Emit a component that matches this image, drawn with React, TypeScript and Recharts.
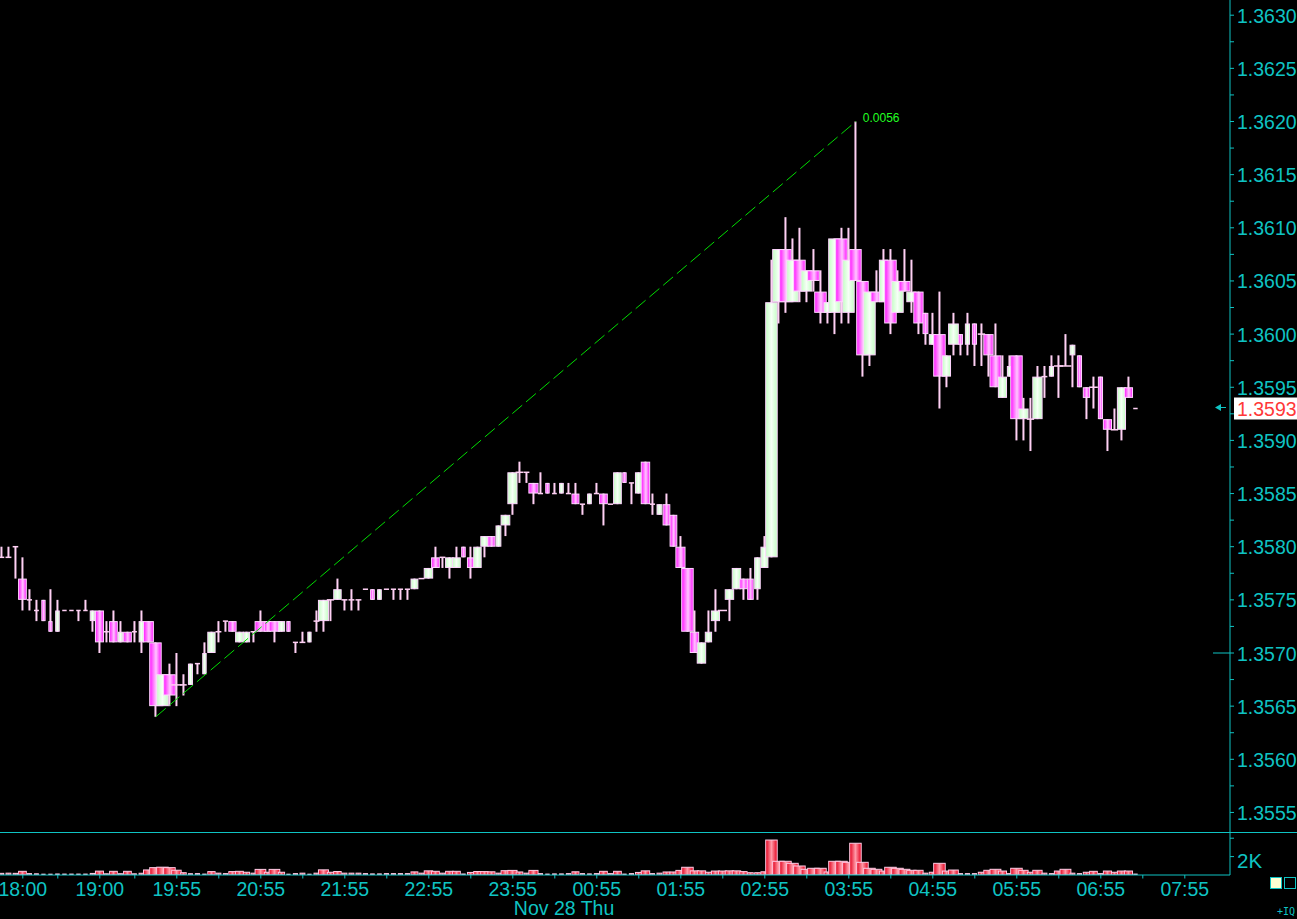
import React from 'react';
import { ComposedChart, Bar, XAxis, YAxis, ReferenceLine, ReferenceDot } from 'recharts';

// ---------- categories (5-minute bars) ----------
const TIMES = [
  '17:45','17:50','17:55','18:00','18:05','18:10','18:15','18:20','18:30','18:35','18:40','18:45','18:50','18:55',
  '19:00','19:05','19:10','19:15','19:20','19:25','19:30','19:35','19:40','19:45','19:50','19:55',
  '20:00','20:05','20:10','20:15','20:20','20:25','20:30','20:35','20:40','20:45','20:50','20:55',
  '21:00','21:05','21:10','21:15','21:20','21:25','21:30','21:35','21:40','21:45','21:50','21:55',
  '22:00','22:05','22:10','22:15','22:20','22:25','22:30','22:35','22:40','22:45','22:50','22:55',
  '23:00','23:05','23:10','23:15','23:20','23:25','23:30','23:35','23:40','23:45','23:50','23:55',
  '00:00','00:05','00:10','00:15','00:20','00:25','00:30','00:35','00:40','00:45','00:50','00:55',
  '01:00','01:05','01:10','01:15','01:20','01:25','01:30','01:35','01:40','01:45','01:50','01:55',
  '02:00','02:05','02:10','02:15','02:20','02:25','02:30','02:35','02:40','02:45','02:50','02:55',
  '03:00','03:05','03:10','03:15','03:20','03:25','03:30','03:35','03:40','03:45','03:50','03:55',
  '04:00','04:05','04:10','04:15','04:20','04:25','04:30','04:35','04:40','04:45','04:50','04:55',
  '05:00','05:05','05:10','05:15','05:20','05:25','05:30','05:35','05:40','05:45','05:50','05:55',
  '06:00','06:05','06:10','06:15','06:20','06:25','06:30','06:35','06:40','06:45','06:50','06:55',
  '07:00','07:05','07:10','07:15','07:20',
];

// ---------- series ----------
const OPEN = [
  1.3579,1.3579,1.3580,1.3577,1.3575,1.3574,1.3575,1.3573,1.3572,1.3574,
  1.3574,1.3574,1.3574,1.3573,1.3574,1.3572,1.3573,1.3571,1.3572,1.3572,
  1.3571,1.3573,1.3571,1.3565,1.3568,1.3567,1.3567,1.3567,1.3569,1.3568,
  1.3570,1.3572,1.3573,1.3573,1.3571,1.3571,1.3572,1.3573,1.3573,1.3573,
  1.3572,1.3573,1.3571,1.3571,1.3571,1.3573,1.3573,1.3575,1.3575,1.3575,
  1.3575,1.3575,1.3576,1.3576,1.3575,1.3576,1.3576,1.3576,1.3576,1.3576,
  1.3577,1.3577,1.3579,1.3579,1.3578,1.3578,1.3580,1.3579,1.3578,1.3580,
  1.3581,1.3580,1.3582,1.3584,1.3587,1.3587,1.3586,1.3585,1.3586,1.3585,
  1.3585,1.3585,1.3585,1.3584,1.3584,1.3585,1.3585,1.3584,1.3584,1.3587,
  1.3586,1.3585,1.3588,1.3584,1.3583,1.3584,1.3583,1.3580,1.3578,1.3572,
  1.3569,1.3571,1.3573,1.3574,1.3575,1.3576,1.3577,1.3577,1.3576,1.3578,
  1.3579,1.3603,1.3608,1.3603,1.3607,1.3604,1.3606,1.3604,1.3602,1.3602,
  1.3609,1.3602,1.3608,1.3605,1.3598,1.3604,1.3603,1.3607,1.3602,1.3605,
  1.3603,1.3604,1.3602,1.3599,1.3600,1.3596,1.3599,1.3600,1.3599,1.3601,
  1.3600,1.3600,1.3598,1.3594,1.3596,1.3598,1.3592,1.3592,1.3592,1.3596,
  1.3596,1.3597,1.3597,1.3598,1.3598,1.3595,1.3595,1.3596,1.3592,1.3591,
  1.3591,1.3595,1.3593,
];
const HIGH = [
  1.3580,1.3580,1.3580,1.3579,1.3576,1.3575,1.3575,1.3576,1.3575,1.3574,
  1.3574,1.3574,1.3575,1.3574,1.3574,1.3573,1.3574,1.3573,1.3572,1.3573,
  1.3574,1.3573,1.3571,1.3568,1.3569,1.3570,1.3568,1.3569,1.3569,1.3571,
  1.3572,1.3573,1.3573,1.3573,1.3572,1.3572,1.3572,1.3574,1.3573,1.3573,
  1.3573,1.3573,1.3571,1.3572,1.3572,1.3574,1.3575,1.3575,1.3577,1.3575,
  1.3576,1.3575,1.3576,1.3576,1.3576,1.3576,1.3576,1.3576,1.3576,1.3577,
  1.3577,1.3578,1.3580,1.3579,1.3579,1.3580,1.3580,1.3580,1.3580,1.3581,
  1.3581,1.3582,1.3583,1.3587,1.3588,1.3587,1.3586,1.3587,1.3586,1.3586,
  1.3586,1.3586,1.3586,1.3584,1.3585,1.3586,1.3585,1.3584,1.3587,1.3587,
  1.3586,1.3587,1.3588,1.3585,1.3584,1.3585,1.3583,1.3581,1.3578,1.3574,
  1.3571,1.3574,1.3576,1.3574,1.3576,1.3578,1.3577,1.3578,1.3579,1.3581,
  1.3607,1.3608,1.3611,1.3609,1.3610,1.3606,1.3608,1.3606,1.3603,1.3609,
  1.3610,1.3610,1.3620,1.3605,1.3604,1.3606,1.3608,1.3608,1.3606,1.3608,
  1.3607,1.3604,1.3602,1.3602,1.3604,1.3598,1.3602,1.3600,1.3602,1.3601,
  1.3601,1.3600,1.3601,1.3598,1.3598,1.3598,1.3594,1.3594,1.3597,1.3597,
  1.3598,1.3598,1.3600,1.3599,1.3598,1.3595,1.3596,1.3596,1.3592,1.3593,
  1.3595,1.3596,1.3593,
];
const LOW = [
  1.3579,1.3579,1.3577,1.3574,1.3574,1.3573,1.3573,1.3572,1.3572,1.3574,
  1.3574,1.3573,1.3574,1.3572,1.3570,1.3571,1.3571,1.3571,1.3571,1.3571,
  1.3570,1.3571,1.3564,1.3565,1.3565,1.3565,1.3566,1.3567,1.3568,1.3568,
  1.3570,1.3571,1.3572,1.3572,1.3571,1.3571,1.3571,1.3572,1.3572,1.3571,
  1.3572,1.3572,1.3570,1.3571,1.3571,1.3572,1.3572,1.3573,1.3575,1.3574,
  1.3574,1.3574,1.3576,1.3575,1.3575,1.3576,1.3575,1.3575,1.3575,1.3576,
  1.3577,1.3577,1.3578,1.3578,1.3577,1.3578,1.3579,1.3577,1.3578,1.3579,
  1.3580,1.3580,1.3581,1.3583,1.3586,1.3586,1.3584,1.3585,1.3585,1.3585,
  1.3585,1.3585,1.3584,1.3583,1.3584,1.3585,1.3582,1.3584,1.3584,1.3586,
  1.3584,1.3585,1.3584,1.3583,1.3583,1.3582,1.3580,1.3578,1.3572,1.3570,
  1.3569,1.3571,1.3572,1.3574,1.3573,1.3576,1.3575,1.3575,1.3575,1.3578,
  1.3579,1.3601,1.3602,1.3603,1.3603,1.3603,1.3604,1.3601,1.3601,1.3600,
  1.3601,1.3601,1.3605,1.3596,1.3597,1.3603,1.3603,1.3600,1.3602,1.3604,
  1.3602,1.3600,1.3599,1.3599,1.3593,1.3595,1.3598,1.3598,1.3598,1.3597,
  1.3597,1.3596,1.3595,1.3594,1.3596,1.3590,1.3590,1.3589,1.3592,1.3594,
  1.3596,1.3594,1.3597,1.3595,1.3595,1.3592,1.3593,1.3592,1.3589,1.3591,
  1.3590,1.3594,1.3593,
];
const CLOSE = [
  1.3579,1.3579,1.3580,1.3575,1.3575,1.3574,1.3573,1.3572,1.3574,1.3574,
  1.3574,1.3574,1.3574,1.3574,1.3571,1.3572,1.3571,1.3572,1.3571,1.3572,
  1.3573,1.3571,1.3565,1.3568,1.3566,1.3567,1.3567,1.3569,1.3569,1.3570,
  1.3572,1.3572,1.3573,1.3572,1.3572,1.3572,1.3572,1.3572,1.3572,1.3572,
  1.3573,1.3572,1.3571,1.3571,1.3572,1.3573,1.3575,1.3575,1.3576,1.3575,
  1.3575,1.3575,1.3576,1.3575,1.3576,1.3576,1.3576,1.3576,1.3576,1.3577,
  1.3577,1.3578,1.3578,1.3579,1.3579,1.3579,1.3579,1.3578,1.3580,1.3581,
  1.3580,1.3582,1.3583,1.3587,1.3587,1.3587,1.3585,1.3585,1.3585,1.3585,
  1.3586,1.3585,1.3584,1.3584,1.3585,1.3585,1.3584,1.3584,1.3587,1.3586,
  1.3586,1.3587,1.3584,1.3584,1.3584,1.3582,1.3580,1.3578,1.3572,1.3570,
  1.3571,1.3572,1.3574,1.3574,1.3576,1.3578,1.3576,1.3575,1.3579,1.3580,
  1.3603,1.3608,1.3603,1.3607,1.3604,1.3606,1.3605,1.3602,1.3603,1.3609,
  1.3603,1.3607,1.3605,1.3598,1.3604,1.3603,1.3607,1.3601,1.3605,1.3604,
  1.3604,1.3601,1.3600,1.3600,1.3596,1.3598,1.3601,1.3599,1.3601,1.3599,
  1.3600,1.3598,1.3595,1.3596,1.3597,1.3592,1.3593,1.3592,1.3596,1.3596,
  1.3597,1.3597,1.3597,1.3599,1.3595,1.3594,1.3595,1.3592,1.3591,1.3591,
  1.3595,1.3594,1.3593,
];
const VOLUME = [
  180,200,180,400,150,130,90,90,110,100,
  100,100,100,170,420,130,400,140,400,130,
  190,550,800,850,800,520,250,140,150,100,
  370,200,150,370,400,300,200,610,300,610,
  300,90,150,200,90,200,560,300,380,200,
  200,200,150,120,120,150,150,150,150,340,
  200,450,400,200,400,400,110,280,380,370,
  350,200,470,500,330,200,500,150,100,120,
  120,150,350,150,120,150,400,150,400,100,
  150,280,450,150,200,330,330,500,840,450,
  450,300,430,430,450,450,370,250,250,350,
  3800,1490,1490,1270,980,620,730,730,330,1490,
  1490,1380,3450,1380,730,620,430,840,730,620,
  510,510,200,300,1270,430,540,150,150,150,
  300,510,620,430,150,730,510,300,510,200,
  150,430,620,200,150,300,400,150,430,300,
  430,430,100,
];

// ---------- tick labels ----------
const PRICE_LABELS = [1.3555, 1.3560, 1.3565, 1.3570, 1.3575, 1.3580, 1.3585, 1.3590, 1.3595, 1.3600, 1.3605, 1.3610, 1.3615, 1.3620, 1.3625, 1.3630];
const PRICE_MINOR = [1.35575, 1.35625, 1.35675, 1.35725, 1.35775, 1.35825, 1.35875, 1.35925, 1.35975, 1.36025, 1.36075, 1.36125, 1.36175, 1.36225, 1.36275];
const LAST_PRICE = 1.3593;
const ALERT_LEVEL = 1.3570;
const MAJOR_IDX = [3, 14, 25, 37, 49, 61, 73, 85, 97, 109, 121, 133, 145, 157, 169];
const MAJOR_LABELS = ['18:00', '19:00', '19:55', '20:55', '21:55', '22:55', '23:55', '00:55', '01:55', '02:55', '03:55', '04:55', '05:55', '06:55', '07:55'];
const MINOR_IDX = [8, 19, 31, 43, 55, 67, 79, 91, 103, 115, 127, 139, 151, 163];
const DATE_IDX = 73;
const DATE_LABEL = 'Nov 28 Thu';
const VOL_TICKS = [2000, 4000];
const VOL_LABELS = ['2K', ''];
const MEASURE_FROM = { i: 22, price: 1.3564 };
const MEASURE_TO = { i: 122, price: 1.3620 };
const MEASURE_LABEL = '0.0056';

const ROWS = TIMES.map((t, i) => ({ i, time: t, o: OPEN[i], h: HIGH[i], l: LOW[i], c: CLOSE[i], v: VOLUME[i] }));

// ---------- style ----------
const CYAN = '#0fc3c3';
const FONT = '"Liberation Sans", Arial, Helvetica, sans-serif';
const WICK = '#ffd0f4';
const BORDER = '#ffd6ff';
const X_DOMAIN: [number, number] = [-0.2571, 175.457];
const Y_DOMAIN: [number, number] = [1.3553161, 1.363143];
const V_DOMAIN: [number, number] = [0, 4565];

const barWidth = (v: number) => Math.max(4, Math.min(12.5, 3 + v / 70));
const near = (a: number, b: number) => Math.abs(a - b) < 1e-7;

function CandleWick(props: any) {
  const { x, y, width, height } = props;
  if (x == null || y == null) return null;
  const top = Math.min(y, y + height);
  const h = Math.abs(height);
  if (!(h > 0)) return null;
  return <rect x={x + width / 2 - 1} y={top} width={2} height={h} fill={WICK} />;
}

function CandleBody(props: any) {
  const { x, y, width, height, payload } = props;
  if (x == null || y == null || !payload) return null;
  const cx = x + width / 2;
  const w = barWidth(payload.v);
  const top = Math.min(y, y + (height || 0));
  const h = Math.abs(height || 0);
  if (payload.c === payload.o) {
    return <rect x={cx - w / 2} y={top - 0.75} width={w} height={1.5} fill={WICK} />;
  }
  const up = payload.c > payload.o;
  return (
    <rect
      x={cx - w / 2 + 0.5}
      y={top + 0.5}
      width={w - 1}
      height={Math.max(h - 1, 0.5)}
      fill={up ? 'url(#candleUp)' : 'url(#candleDown)'}
      stroke={BORDER}
      strokeWidth={1}
    />
  );
}

function VolumeBar(props: any) {
  const { x, y, width, height, payload } = props;
  if (x == null || y == null || !payload) return null;
  const cx = x + width / 2;
  const w = barWidth(payload.v);
  const h = Math.max(Math.abs(height || 0), 0.8);
  const top = Math.min(y, y + (height || 0));
  return (
    <rect x={cx - w / 2 + 0.5} y={top} width={w - 1} height={h} fill="url(#volFill)" stroke="#ffcce6" strokeWidth={1} />
  );
}

function PriceTick(props: any) {
  const { x, y, payload } = props;
  const v = payload.value;
  if (near(v, LAST_PRICE)) {
    return (
      <g>
        <polygon points={`${x - 15},${y - 1} ${x - 9},${y - 4.5} ${x - 9},${y + 2.5}`} fill={CYAN} />
        <line x1={x - 11} y1={y - 1} x2={x - 4} y2={y - 1} stroke={CYAN} strokeWidth={1} />
        <rect x={x + 4} y={y - 11} width={63} height={22} fill="#ffffff" />
        <text x={x + 7} y={y + 7.5} fill="#ff3838" fontSize={19.5} fontFamily={FONT}>{v.toFixed(4)}</text>
      </g>
    );
  }
  const major = PRICE_LABELS.some((p) => near(p, v));
  return (
    <g>
      <line x1={x} y1={y} x2={x + 4} y2={y} stroke={CYAN} strokeWidth={1} />
      {near(v, ALERT_LEVEL) && <line x1={x - 17} y1={y} x2={x} y2={y} stroke={CYAN} strokeWidth={1} />}
      {major && (
        <text x={x + 7} y={y + 7.5} fill={CYAN} fontSize={19.5} fontFamily={FONT}>{v.toFixed(4)}</text>
      )}
    </g>
  );
}

function VolumeTick(props: any) {
  const { x, y, payload } = props;
  const k = VOL_TICKS.indexOf(payload.value);
  return (
    <g>
      <line x1={x} y1={y} x2={x + 4} y2={y} stroke={CYAN} strokeWidth={1} />
      {k >= 0 && VOL_LABELS[k] && (
        <text x={x + 7} y={y + 11.5} fill={CYAN} fontSize={20.5} fontFamily={FONT}>{VOL_LABELS[k]}</text>
      )}
    </g>
  );
}

function TimeTick(props: any) {
  const { x, y, payload } = props;
  const k = MAJOR_IDX.indexOf(payload.value);
  return (
    <g>
      <line x1={x} y1={y} x2={x} y2={y + 3.5} stroke={CYAN} strokeWidth={1} />
      {k >= 0 && (
        <text x={x} y={y + 21} textAnchor="middle" fill={CYAN} fontSize={19.5} fontFamily={FONT}>{MAJOR_LABELS[k]}</text>
      )}
      {payload.value === DATE_IDX && (
        <text x={x + 1} y={y + 40} textAnchor="start" fill={CYAN} fontSize={19.5} fontFamily={FONT}>{DATE_LABEL}</text>
      )}
    </g>
  );
}

const wickRange = (d: any) => [d.l, d.h];
const bodyRange = (d: any) => [Math.min(d.o, d.c), Math.max(d.o, d.c)];

export default function App() {
  return (
    <div style={{ position: 'absolute', left: 0, top: 0, width: 1297, height: 919, background: '#000', overflow: 'hidden' }}>
      <div style={{ position: 'absolute', left: 0, top: 0 }}>
        <ComposedChart width={1297} height={832} data={ROWS} margin={{ top: 0, right: 0, bottom: 0, left: 0 }}>
          <defs>
            <linearGradient id="candleUp" x1="0" y1="0" x2="1" y2="0">
              <stop offset="0%" stopColor="#c4ffc4" />
              <stop offset="50%" stopColor="#f6fff6" />
              <stop offset="100%" stopColor="#c4ffc4" />
            </linearGradient>
            <linearGradient id="candleDown" x1="0" y1="0" x2="1" y2="0">
              <stop offset="0%" stopColor="#ff12ff" />
              <stop offset="55%" stopColor="#ffc6ff" />
              <stop offset="100%" stopColor="#ff12ff" />
            </linearGradient>
          </defs>
          <XAxis xAxisId="wick" dataKey="i" type="number" domain={X_DOMAIN} allowDataOverflow hide />
          <XAxis xAxisId="body" dataKey="i" type="number" domain={X_DOMAIN} allowDataOverflow hide />
          <YAxis
            orientation="right"
            type="number"
            domain={Y_DOMAIN}
            allowDataOverflow
            width={67}
            ticks={[...PRICE_LABELS, ...PRICE_MINOR, LAST_PRICE]}
            interval={0}
            tickSize={0}
            tickMargin={0}
            tickLine={false}
            axisLine={{ stroke: CYAN, strokeWidth: 1 }}
            tick={(p: any) => <PriceTick {...p} />}
          />
          <Bar xAxisId="wick" dataKey={wickRange} barSize={12} isAnimationActive={false} shape={(p: any) => <CandleWick {...p} />} />
          <Bar xAxisId="body" dataKey={bodyRange} barSize={12} isAnimationActive={false} shape={(p: any) => <CandleBody {...p} />} />
          <ReferenceLine
            xAxisId="body"
            segment={[{ x: MEASURE_FROM.i, y: MEASURE_FROM.price }, { x: MEASURE_TO.i, y: MEASURE_TO.price }]}
            stroke="#00dd00"
            strokeWidth={1}
            strokeDasharray="13 5"
            ifOverflow="visible"
          />
          <ReferenceDot
            xAxisId="body"
            x={MEASURE_TO.i}
            y={MEASURE_TO.price}
            r={0}
            fill="none"
            stroke="none"
            label={{
              content: (p: any) => {
                const vb = p.viewBox || { x: 0, y: 0 };
                return (
                  <text x={vb.x + 7} y={vb.y} fill="#22ff22" fontSize={12} fontFamily={FONT}>{MEASURE_LABEL}</text>
                );
              },
            }}
          />
        </ComposedChart>
      </div>
      <div style={{ position: 'absolute', left: 0, top: 832, width: 1297, height: 1, background: CYAN }} />
      <div style={{ position: 'absolute', left: 0, top: 833 }}>
        <ComposedChart width={1297} height={86} data={ROWS} margin={{ top: 0, right: 0, bottom: 0, left: 0 }}>
          <defs>
            <linearGradient id="volFill" x1="0" y1="0" x2="1" y2="0">
              <stop offset="0%" stopColor="#e4001c" />
              <stop offset="50%" stopColor="#ff9aa8" />
              <stop offset="100%" stopColor="#e4001c" />
            </linearGradient>
          </defs>
          <XAxis
            dataKey="i"
            type="number"
            domain={X_DOMAIN}
            allowDataOverflow
            ticks={[...MAJOR_IDX, ...MINOR_IDX]}
            interval={0}
            height={44}
            tickSize={0}
            tickMargin={0}
            tickLine={false}
            axisLine={{ stroke: CYAN, strokeWidth: 1 }}
            tick={(p: any) => <TimeTick {...p} />}
          />
          <YAxis
            orientation="right"
            type="number"
            domain={V_DOMAIN}
            allowDataOverflow
            width={67}
            ticks={VOL_TICKS}
            interval={0}
            tickSize={0}
            tickMargin={0}
            tickLine={false}
            axisLine={{ stroke: CYAN, strokeWidth: 1 }}
            tick={(p: any) => <VolumeTick {...p} />}
          />
          <Bar dataKey="v" barSize={12} isAnimationActive={false} shape={(p: any) => <VolumeBar {...p} />} />
        </ComposedChart>
      </div>
      <div style={{ position: 'absolute', left: 1270, top: 877, width: 10, height: 10, background: '#ffffd2', border: `1px solid ${CYAN}` }} />
      <div style={{ position: 'absolute', left: 1284, top: 877, width: 10, height: 10, border: `1px solid ${CYAN}` }} />
      <div style={{ position: 'absolute', left: 1277, top: 906, color: CYAN, fontSize: 10, fontFamily: '"DejaVu Sans Mono", monospace', lineHeight: '12px' }}>+IQ</div>
    </div>
  );
}
